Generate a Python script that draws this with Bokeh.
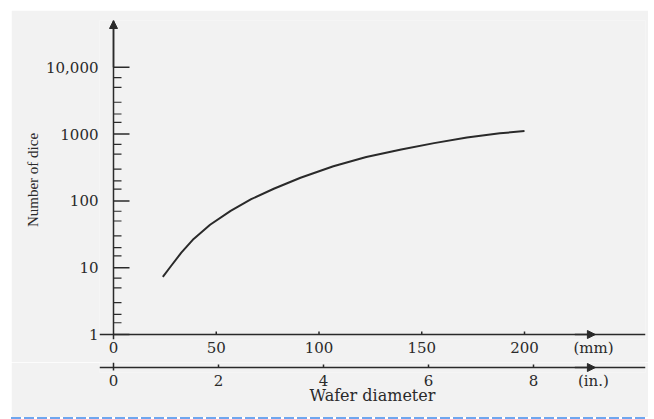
import math

from bokeh.plotting import figure
from bokeh.models import LinearAxis, Range1d, FixedTicker, Arrow, NormalHead, Span, Div
from bokeh.layouts import column
from bokeh.embed import file_html
from bokeh.resources import INLINE

# Number of dice per wafer against wafer diameter
diameter_mm = [24, 28, 33, 39, 47, 57, 67, 78, 91, 107, 123, 140, 156, 172, 188, 200]
dice_count = [7.3, 10.6, 16.8, 27, 44, 71, 106, 152, 222, 330, 454, 590, 733, 890, 1028, 1110]

# Axis ticks
y_major = [1, 10, 100, 1000, 10000]
y_major_labels = ["1", "10", "100", "1000", "10,000"]
y_minor_steps = [1.5, 2, 3, 5, 7]
mm_ticks = [0, 50, 100, 150, 200]
inch_ticks = [0, 2, 4, 6, 8]

PANEL = "#f2f2f2"
INK = "#2a2a2a"
SERIF = "DejaVu Serif"
SERIF_NARROW = "Liberation Serif"

# geometry (pixels)
PX_PER_MM = 2.055
PX_PER_INCH = 52.5
LEFT_STUB = 14          # axis lines run this far left of the origin
FRAME_W = 546
PX_PER_DECADE = 66.8
TOP_FRAME_H = 319
ONE_ABOVE_BOTTOM = 5    # the value 1 sits this far above the lower frame edge
ARROW_TIP_MM = 234.5
MM_CAPTION_AT = 233.6
INCH_CAPTION_AT = 9.14

x_mm = Range1d(-LEFT_STUB / PX_PER_MM, (FRAME_W - LEFT_STUB) / PX_PER_MM)
y_dice = Range1d(10 ** (-ONE_ABOVE_BOTTOM / PX_PER_DECADE),
                 10 ** ((TOP_FRAME_H - ONE_ABOVE_BOTTOM) / PX_PER_DECADE))


def head():
    return NormalHead(size=8, fill_color=INK, line_color=INK, line_width=1)


def plain(fig):
    fig.outline_line_color = None
    fig.grid.visible = False


def label_only_axis(ax, standoff):
    ax.axis_line_color = None
    ax.major_tick_in = 0
    ax.major_tick_out = 0
    ax.minor_tick_in = 0
    ax.minor_tick_out = 0
    ax.major_label_standoff = standoff
    ax.major_label_text_font = SERIF
    ax.major_label_text_font_size = "15px"
    ax.major_label_text_color = INK


# ---------------- main panel: log count against millimetres ----------------
p = figure(
    width=637, height=352, x_range=x_mm, y_range=y_dice,
    y_axis_type="log", x_axis_location=None,
    output_backend="svg", toolbar_location=None,
    min_border_left=88, min_border_right=3, min_border_top=10, min_border_bottom=23,
    border_fill_color=PANEL, background_fill_color=PANEL,
    margin=(10, 0, 0, 11),
)
plain(p)

ya = p.yaxis[0]
ya.ticker = FixedTicker(ticks=y_major)
ya.major_label_overrides = {v: t for v, t in zip(y_major, y_major_labels)}
label_only_axis(ya, 1)
ya.axis_label = "Number of dice"
ya.axis_label_text_font = SERIF_NARROW
ya.axis_label_text_font_size = "15px"
ya.axis_label_text_font_style = "normal"
ya.axis_label_text_color = INK
ya.axis_label_standoff = 2

mm_axis = LinearAxis(ticker=FixedTicker(ticks=mm_ticks + [MM_CAPTION_AT]))
mm_axis.major_label_overrides = {MM_CAPTION_AT: "(mm)"}
label_only_axis(mm_axis, -1)
p.add_layout(mm_axis, "below")

# axis lines through the origin
p.add_layout(Span(location=0, dimension="height", line_color=INK, line_width=1.5))
p.add_layout(Span(location=1, dimension="width", line_color=INK, line_width=1.5))
p.add_layout(Arrow(end=head(), x_start=0, y_start=y_major[-1], x_end=0, y_end=y_dice.end,
                   line_color=INK, line_width=1.5))
p.add_layout(Arrow(end=head(), x_start=ARROW_TIP_MM - 10, y_start=1, x_end=ARROW_TIP_MM, y_end=1,
                   line_color=INK, line_width=1.5))

# tick marks pointing into the plot
y_minor = [s * d for d in y_major[:-1] for s in y_minor_steps]
p.ray(x=[0] * len(y_major), y=y_major, length=16, angle=0, length_units="screen",
      line_color=INK, line_width=1.5)
p.ray(x=[0] * len(y_minor), y=y_minor, length=8, angle=0, length_units="screen",
      line_color=INK, line_width=1.2)
p.ray(x=mm_ticks[1:], y=[1] * (len(mm_ticks) - 1), length=3, angle=math.pi / 2,
      length_units="screen", line_color=INK, line_width=1.5)

# curve
p.line(diameter_mm, dice_count, line_color=INK, line_width=2)

# ---------------- inch scale strip ----------------
INCH_STRIP_H = 10
INCH_LINE_Y = 5
q = figure(
    width=637, height=55, x_range=x_mm, y_range=Range1d(0, INCH_STRIP_H),
    x_axis_location=None, y_axis_location=None,
    output_backend="svg", toolbar_location=None,
    min_border_left=88, min_border_right=3, min_border_top=0, min_border_bottom=45,
    border_fill_color=PANEL, background_fill_color=PANEL,
    margin=(0, 0, 0, 11),
)
plain(q)
q.extra_x_ranges = {"inch": Range1d(-LEFT_STUB / PX_PER_INCH, (FRAME_W - LEFT_STUB) / PX_PER_INCH)}

in_axis = LinearAxis(x_range_name="inch", ticker=FixedTicker(ticks=inch_ticks + [INCH_CAPTION_AT]))
in_axis.major_label_overrides = {INCH_CAPTION_AT: "(in.)"}
label_only_axis(in_axis, -1)
in_axis.axis_label = "Wafer diameter"
in_axis.axis_label_text_font = SERIF
in_axis.axis_label_text_font_size = "16px"
in_axis.axis_label_text_font_style = "normal"
in_axis.axis_label_text_color = INK
in_axis.axis_label_standoff = -7
q.add_layout(in_axis, "below")

q.add_layout(Span(location=INCH_LINE_Y, dimension="width", line_color=INK, line_width=1.5))
q.add_layout(Arrow(end=head(), x_start=ARROW_TIP_MM - 10, y_start=INCH_LINE_Y,
                   x_end=ARROW_TIP_MM, y_end=INCH_LINE_Y, line_color=INK, line_width=1.5))
q.segment(x0=[0], y0=[INCH_LINE_Y - 3], x1=[0], y1=[INCH_STRIP_H], line_color=INK, line_width=1.5)
q.ray(x=inch_ticks[1:], y=[INCH_LINE_Y] * (len(inch_ticks) - 1), length=3, angle=math.pi / 2,
      length_units="screen", line_color=INK, line_width=1.5, x_range_name="inch")

rule = Div(text="", width=637, height=2, margin=(0, 0, 0, 11),
           styles={"background": "repeating-linear-gradient(90deg, #6fa6ef 0 10px, transparent 10px 13px)"})

layout = column(p, q, rule, spacing=0)
open("out.html", "w").write(file_html(layout, INLINE))
